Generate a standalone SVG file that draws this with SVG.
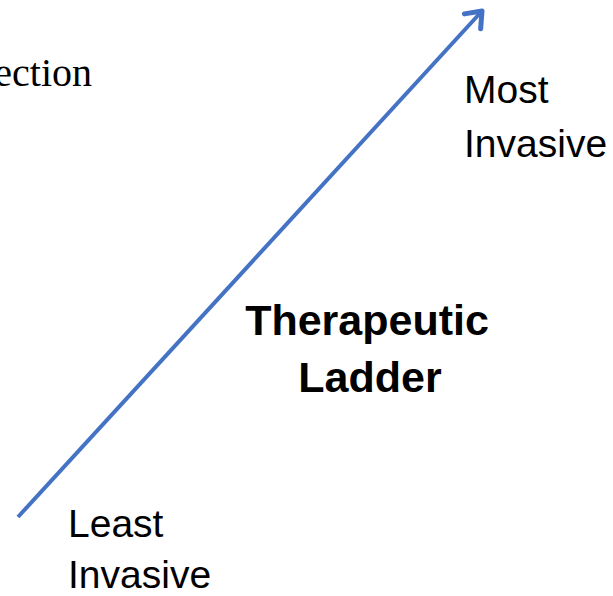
<svg xmlns="http://www.w3.org/2000/svg" width="613" height="596" viewBox="0 0 613 596">
<style>
.lbl{font-family:"Liberation Sans",Arial,sans-serif;font-size:39px;fill:#000}
.title{font-family:"Liberation Sans",Arial,sans-serif;font-size:43px;font-weight:bold;fill:#000;text-anchor:middle}
.ser{font-family:"Liberation Serif","Times New Roman",serif;font-size:40px;fill:#000}
.conn{stroke:#4472C4;stroke-width:4;fill:none}
</style>
<defs>
<marker id="ah" markerWidth="8" markerHeight="8" refX="5" refY="4" orient="auto" markerUnits="userSpaceOnUse" viewBox="0 0 8 8" overflow="visible">
<polyline points="-9,-7 5,4 -9,15" fill="none" stroke="#4472C4" stroke-width="5" stroke-linecap="round" stroke-linejoin="round"/>
</marker>
</defs>
<rect width="613" height="596" fill="#fff"/>
<g id="edge-text">
<text class="ser" x="92" y="86" text-anchor="end">ection</text>
</g>
<g id="connectors">
<line class="conn" x1="18" y1="517" x2="482" y2="11" marker-end="url(#ah)"/>
</g>
<g id="most">
<text class="lbl" x="464" y="103">Most</text>
<text class="lbl" x="464" y="157">Invasive</text>
</g>
<g id="title">
<text class="title" x="367" y="335">Therapeutic</text>
<text class="title" x="370" y="392">Ladder</text>
</g>
<g id="least">
<text class="lbl" x="68" y="537">Least</text>
<text class="lbl" x="68" y="588">Invasive</text>
</g>
</svg>
